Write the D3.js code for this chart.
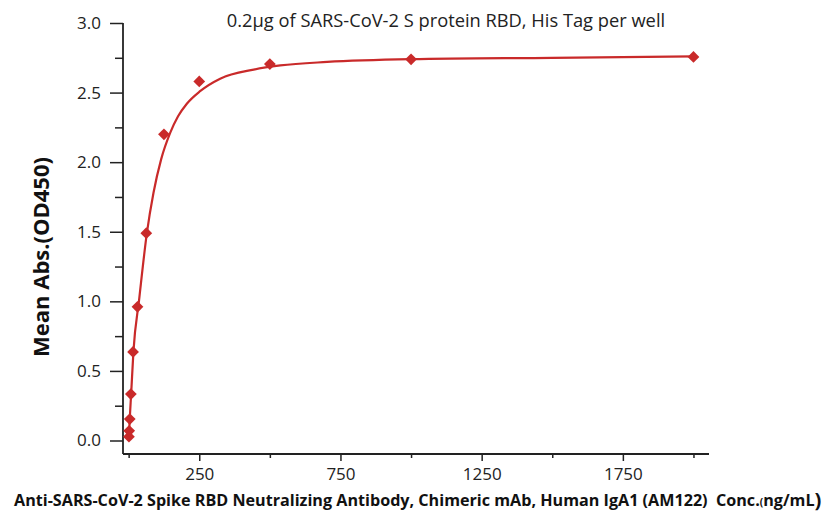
<!DOCTYPE html>
<html>
<head>
<meta charset="utf-8">
<script src="https://cdn.jsdelivr.net/npm/d3@7"></script>
<style>
  body { margin: 0; background: #fff; }
  svg { display: block; }
</style>
</head>
<body>
<div id="chart"></div>
<script>
// measured points (conc ng/mL, OD450)
var conc = [0.98, 1.95, 3.9, 7.8, 15.6, 31.25, 62.5, 125, 250, 500, 1000, 2000];
var od = [0.027, 0.070, 0.154, 0.334, 0.636, 0.961, 1.49, 2.20, 2.58, 2.705, 2.739, 2.756];

// fitted curve
var fitConc = [0.98, 4, 9, 17, 37, 64.5, 88, 115, 147, 175, 206, 253, 324, 443, 537, 703, 1000, 1500, 2000];
var fitOd = [0.03, 0.16, 0.34, 0.64, 1.01, 1.49, 1.78, 2.02, 2.21, 2.33, 2.42, 2.51, 2.60, 2.665, 2.695, 2.72, 2.74, 2.75, 2.76];

var xMajor = [250, 750, 1250, 1750];
var xMinor = [0, 500, 1000, 1500, 2000];
var yMajor = [0, 0.5, 1.0, 1.5, 2.0, 2.5, 3.0];
var yMinor = [0.25, 0.75, 1.25, 1.75, 2.25, 2.75];

var W = 823, H = 518;
var red = "#c92a2a";
var axisCol = "#222";

var svg = d3.select("#chart").append("svg")
  .attr("width", W).attr("height", H);

var x = d3.scaleLinear().domain([-20, 2055]).range([123, 709]);
var y = d3.scaleLinear().domain([0, 3]).range([440.5, 23]);
var axisY = 454;

// x axis
var gx = svg.append("g").attr("transform", "translate(0," + axisY + ")");
gx.call(d3.axisBottom(x).tickValues(xMajor).tickSize(7).tickSizeOuter(0).tickFormat(d3.format("d")));
gx.append("g").call(d3.axisBottom(x).tickValues(xMinor).tickSize(4).tickFormat(""));
gx.selectAll(".domain").remove();
gx.selectAll("line").attr("stroke", axisCol).attr("stroke-width", 1.5);
gx.selectAll("text")
  .attr("fill", "#222")
  .style("font-family", "'Open Sans', sans-serif")
  .style("font-size", "17px")
  .attr("dy", "0.85em").attr("y", 12);

// y axis
var gy = svg.append("g").attr("transform", "translate(123,0)");
gy.call(d3.axisLeft(y).tickValues(yMajor).tickSize(13).tickSizeOuter(0).tickFormat(d3.format(".1f")));
gy.append("g").call(d3.axisLeft(y).tickValues(yMinor).tickSize(8).tickFormat(""));
gy.selectAll(".domain").remove();
gy.selectAll("line").attr("stroke", axisCol).attr("stroke-width", 1.5);
gy.selectAll("text")
  .attr("fill", "#222")
  .attr("x", -22)
  .style("font-family", "'Open Sans', sans-serif")
  .style("font-size", "17px");

// axis lines
svg.append("line")
  .attr("x1", 123).attr("x2", 709).attr("y1", axisY).attr("y2", axisY)
  .attr("stroke", axisCol).attr("stroke-width", 1.8);
svg.append("line")
  .attr("x1", 123).attr("x2", 123).attr("y1", y(3)).attr("y2", axisY)
  .attr("stroke", axisCol).attr("stroke-width", 1.8);

// fit curve
var fit = fitConc.map(function(c, i) { return [c, fitOd[i]]; });
svg.append("path")
  .datum(fit)
  .attr("fill", "none")
  .attr("stroke", red)
  .attr("stroke-width", 2.2)
  .attr("d", d3.line()
    .x(function(d) { return x(d[0]); })
    .y(function(d) { return y(d[1]); })
    .curve(d3.curveMonotoneX));

// points
var pts = conc.map(function(c, i) { return {c: c, v: od[i]}; });
svg.selectAll("path.pt")
  .data(pts)
  .enter()
  .append("path")
    .attr("class", "pt")
    .attr("d", d3.symbol().type(d3.symbolDiamond2).size(88))
    .attr("transform", function(d) { return "translate(" + x(d.c) + "," + y(d.v) + ")"; })
    .attr("fill", red);

// title
svg.append("text")
  .attr("x", 446).attr("y", 27)
  .attr("text-anchor", "middle")
  .attr("fill", "#222")
  .style("font-family", "'Open Sans', sans-serif")
  .style("font-size", "18.3px")
  .text("0.2\u03bcg of SARS-CoV-2 S protein RBD, His Tag per well");

// y label
svg.append("text")
  .attr("transform", "translate(49,257) rotate(-90)")
  .attr("text-anchor", "middle")
  .attr("fill", "#111")
  .style("font-family", "'Open Sans', sans-serif")
  .style("font-weight", "bold")
  .style("font-size", "22px")
  .text("Mean Abs.(OD450)");

// x label
var xl = svg.append("text")
  .attr("x", 14).attr("y", 506)
  .attr("fill", "#111")
  .style("font-family", "'Open Sans', sans-serif")
  .style("font-weight", "bold")
  .style("font-size", "16px");
xl.append("tspan").text("Anti-SARS-CoV-2 Spike RBD Neutralizing Antibody, Chimeric mAb, Human IgA1 (AM122)\u00a0 Conc.");
xl.append("tspan").style("font-size", "10px").text("(");
xl.append("tspan").text("ng/mL");
xl.append("tspan").style("font-size", "20px").attr("dy", 1).text(")");

// stretch label to the reference width
var bb = xl.node().getBBox();
var target = 808;
xl.attr("transform", "translate(14,0) scale(" + (target / bb.width) + ",1) translate(-14,0)");
</script>
</body>
</html>
